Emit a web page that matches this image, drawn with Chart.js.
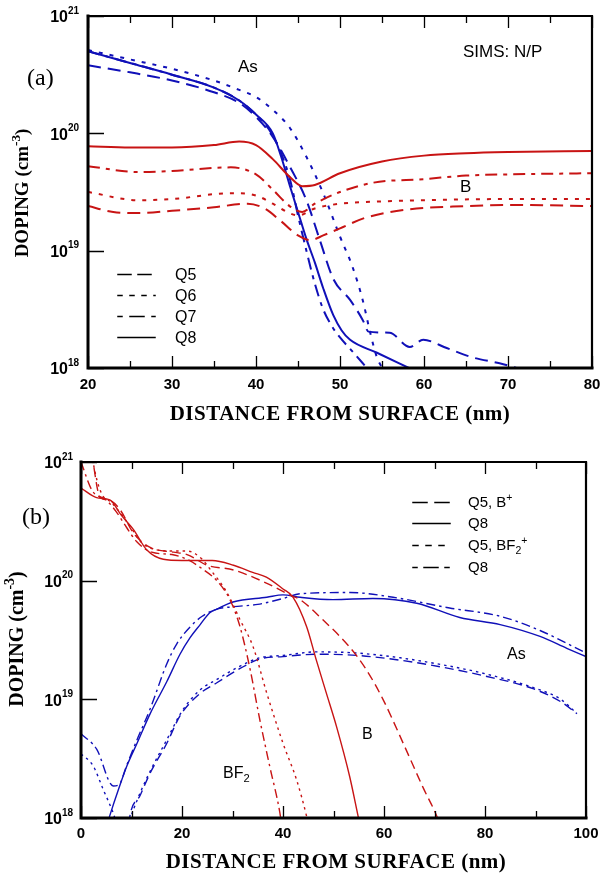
<!DOCTYPE html>
<html>
<head>
<meta charset="utf-8">
<script src="https://cdn.jsdelivr.net/npm/chart.js@4.4.0/dist/chart.umd.min.js"></script>
<style>
	body { margin: 0; background: #fff; width: 602px; height: 876px; position: relative; overflow: hidden; }
	.dop-wrap { position: absolute; left: 0; width: 602px; }
</style>
</head>
<body>
<div class="dop-wrap" style="top:0;height:430px"><canvas id="chartA"></canvas></div>
<div class="dop-wrap" style="top:430px;height:446px"><canvas id="chartB"></canvas></div>
<script>
// all doping values are log10(cm^-3), x is depth in nm

// panel (a) - SIMS N/P
var asQ5a = [[20,20.58],[25,20.52],[30,20.45],[35,20.35],[38,20.26],[40,20.14],[42,19.97],[44,19.72],[46,19.43],[47.6,19.09],[49.2,18.76],[51.2,18.58],[52.7,18.41],[53.4,18.31],[55.9,18.30],[58.3,18.18],[59.9,18.24],[62.7,18.17],[65.8,18.09],[69,18.04],[72,17.98]];
var asQ6a = [[20,20.71],[25,20.63],[30,20.55],[35,20.45],[38,20.37],[40,20.31],[42,20.2],[44,20.05],[46,19.8],[48,19.49],[50,19.12],[51.5,18.86],[52.7,18.58],[53.6,18.3],[54.4,18.09],[55.2,17.98]];
var asQ7a = [[20,20.70],[25,20.6],[30,20.5],[35,20.39],[38,20.28],[40,20.16],[42,19.98],[44,19.62],[45,19.3],[46,19.0],[47,18.72],[48,18.5],[49,18.36],[50,18.26],[51.5,18.14],[53.2,18.0]];
var asQ8a = [[20,20.70],[25,20.6],[30,20.5],[35,20.39],[38,20.28],[40,20.16],[42,20.0],[43,19.8],[44,19.56],[45,19.33],[46,19.1],[47,18.9],[48,18.68],[49.2,18.45],[50.2,18.32],[51.2,18.24],[54.4,18.13],[58.2,18.0]];
var bQ5a = [[20,19.38],[23,19.33],[26,19.32],[30,19.34],[35,19.37],[39,19.40],[41,19.36],[43,19.25],[45,19.13],[46.5,19.09],[48,19.13],[50,19.19],[53,19.28],[58,19.35],[65,19.38],[70,19.39],[80,19.38]];
var bQ6a = [[20,19.50],[26,19.43],[30,19.44],[37,19.49],[40,19.47],[42,19.40],[44,19.32],[45,19.30],[47,19.36],[50,19.40],[55,19.42],[60,19.43],[70,19.44],[80,19.44]];
var bQ7a = [[20,19.72],[26,19.67],[30,19.68],[37,19.71],[40,19.65],[42,19.52],[44,19.38],[45.5,19.33],[47,19.40],[50,19.50],[54,19.58],[60,19.61],[65,19.64],[70,19.65],[80,19.66]];
var bQ8a = [[20,19.89],[25,19.88],[30,19.88],[35,19.90],[38,19.93],[40,19.90],[42,19.78],[44,19.63],[45.5,19.55],[47,19.56],[50,19.66],[55,19.76],[60,19.81],[65,19.83],[70,19.84],[80,19.85]];

// panel (b) - B+ and BF2+ implants
var bQ5b = [[1.5,21.3],[2.4,21.0],[3.8,20.70],[5.5,20.68],[7.7,20.60],[10.4,20.40],[13.7,20.28],[18.3,20.24],[21,20.22],[25,20.13],[30.2,20.09],[36.7,19.98],[41.3,19.88],[43.4,19.84],[47.9,19.67],[53.2,19.44],[56.5,19.25],[59.8,19.0],[63.8,18.63],[67.7,18.26],[70.5,18.01],[71,17.95]];
var bQ8b = [[0,20.78],[3.1,20.70],[5.7,20.68],[8,20.55],[10.4,20.43],[13,20.26],[16.3,20.18],[20,20.17],[23.5,20.17],[26,20.17],[30.2,20.13],[34,20.07],[36.7,20.03],[40,19.93],[42,19.86],[44.7,19.61],[46.6,19.33],[48.6,19.05],[50.6,18.77],[53.2,18.35],[54.9,18.01],[55.2,17.95]];
var bf2Q5b = [[1.5,21.3],[2.4,21.0],[4,20.74],[6,20.66],[8,20.56],[10,20.44],[12,20.32],[15,20.26],[18,20.25],[21,20.25],[24,20.18],[25.5,20.10],[28.9,19.9],[31.5,19.67],[34.1,19.44],[36.8,19.05],[40,18.63],[42.7,18.32],[44.7,18.01],[45,17.95]];
var bf2Q8b = [[0,21.0],[2.2,20.76],[5,20.68],[7,20.58],[9,20.45],[11,20.33],[14,20.24],[18,20.22],[21,20.18],[24,20.1],[26.9,20.0],[29.5,19.84],[31.5,19.61],[33.5,19.25],[35.4,18.83],[37.4,18.43],[39.4,18.04],[39.7,17.95]];
var asQ5bB = [[9.5,17.95],[9.7,18.02],[11.7,18.19],[13.7,18.38],[17,18.63],[19.6,18.86],[23.6,19.05],[26.9,19.14],[31.5,19.26],[35.4,19.34],[40,19.36],[46.7,19.38],[54.7,19.37],[63.2,19.33],[71.7,19.27],[79.6,19.2],[89.5,19.09],[95,18.98],[98.2,18.88]];
var asQ5bF = [[0,18.54],[2.4,18.44],[4.4,18.24],[6.4,18.04],[7.5,17.9],[9,17.9],[10.2,18.05],[12,18.24],[14,18.42],[17,18.66],[20,18.9],[23.6,19.08],[27,19.17],[31.5,19.28],[35.4,19.35],[40,19.37],[46.7,19.40],[54.7,19.39],[63.2,19.35],[71.7,19.29],[79.6,19.22],[89.5,19.1],[95,19.0],[98.2,18.88]];
var asQ8bB = [[5.2,17.95],[5.7,18.02],[7.5,18.25],[9.1,18.44],[11.1,18.63],[13.7,18.88],[17,19.15],[19.6,19.38],[21.6,19.52],[23.6,19.63],[25.5,19.73],[26.9,19.76],[30.1,19.82],[36.8,19.86],[40,19.88],[43.4,19.86],[49.9,19.84],[57.8,19.85],[66.5,19.81],[75,19.69],[83,19.63],[90.9,19.53],[96.2,19.43],[100,19.36]];
var asQ8bF = [[0,18.71],[3.1,18.58],[6.4,18.27],[7.5,18.28],[9.1,18.45],[11.1,18.66],[13.7,18.92],[17,19.3],[19,19.47],[21.6,19.61],[24,19.7],[26.9,19.76],[30,19.78],[35,19.80],[40,19.85],[43.4,19.89],[53.3,19.9],[61.8,19.86],[73,19.77],[83,19.70],[90.9,19.58],[100,19.39]];

var xMajorA = [20, 30, 40, 50, 60, 70, 80];
var xMinorA = [25, 35, 45, 55, 65, 75];
var xMajorB = [0, 20, 40, 60, 80, 100];
var xMinorB = [10, 30, 50, 70, 90];
var yDecades = [18, 19, 20, 21];

var BLUE = '#1010b8';
var RED = '#c81414';

function pts(arr) {
	return arr.map(function (p) { return { x: p[0], y: Math.pow(10, p[1]) }; });
}

function line(arr, color, dash, w) {
	return {
		data: pts(arr),
		borderColor: color,
		borderWidth: w,
		borderDash: dash,
		pointRadius: 0,
		fill: false,
		cubicInterpolationMode: 'monotone'
	};
}

// draws text made of parts [text, 'sup'|'sub'|null]; returns width
function rich(ctx, parts, x, y, size, weight, family, measureOnly) {
	var x0 = x;
	parts.forEach(function (p) {
		var s = p[1] ? size * 0.7 : size;
		ctx.font = weight + ' ' + s + 'px ' + family;
		var dy = p[1] === 'sup' ? -size * 0.42 : (p[1] === 'sub' ? size * 0.25 : 0);
		if (!measureOnly) ctx.fillText(p[0], x, y + dy);
		x += ctx.measureText(p[0]).width;
	});
	return x - x0;
}

var SANS = "'Liberation Sans', Arial, sans-serif";
var SERIF = "'Liberation Serif', 'Times New Roman', serif";

function decor(cfg) {
	return {
		id: 'decor',
		afterDraw: function (chart) {
			var ctx = chart.ctx, a = chart.chartArea;
			var xs = chart.scales.x, ys = chart.scales.y;
			ctx.save();
			ctx.strokeStyle = '#000';
			ctx.fillStyle = '#000';

			// inward ticks
			ctx.lineWidth = 1.3;
			ctx.beginPath();
			cfg.xMajor.concat(cfg.xMinor).forEach(function (v) {
				var px = Math.round(xs.getPixelForValue(v)) + 0.5;
				var len = cfg.xMajor.indexOf(v) >= 0 ? 12 : 7;
				ctx.moveTo(px, a.top); ctx.lineTo(px, a.top + len);
				ctx.moveTo(px, a.bottom); ctx.lineTo(px, a.bottom - len);
			});
			yDecades.forEach(function (e) {
				var py = Math.round(ys.getPixelForValue(Math.pow(10, e))) + 0.5;
				ctx.moveTo(a.left, py); ctx.lineTo(a.left + 16, py);
			});
			ctx.stroke();

			// frame
			ctx.lineCap = 'square';
			ctx.lineWidth = 2.2;
			ctx.beginPath();
			ctx.moveTo(a.left, a.top); ctx.lineTo(a.right, a.top); ctx.lineTo(a.right, a.bottom);
			ctx.stroke();
			ctx.lineWidth = 3;
			ctx.beginPath();
			ctx.moveTo(a.left, a.top); ctx.lineTo(a.left, a.bottom); ctx.lineTo(a.right, a.bottom);
			ctx.stroke();

			// x tick labels
			ctx.textAlign = 'center';
			ctx.textBaseline = 'middle';
			ctx.font = 'bold 15px ' + SANS;
			cfg.xMajor.forEach(function (v) {
				ctx.fillText(String(v), xs.getPixelForValue(v), cfg.xLabelY);
			});

			// y tick labels 10^n
			yDecades.forEach(function (e) {
				var py = ys.getPixelForValue(Math.pow(10, e));
				ctx.textAlign = 'right';
				ctx.font = 'bold 16px ' + SANS;
				ctx.fillText('10', cfg.yLabelX, py + 2);
				ctx.textAlign = 'left';
				ctx.font = 'bold 10px ' + SANS;
				ctx.fillText(String(e), cfg.yLabelX, py - 5);
			});

			// axis titles
			ctx.textAlign = 'left';
			ctx.textBaseline = 'alphabetic';
			var xt = [['DISTANCE FROM SURFACE (nm)', null]];
			ctx.letterSpacing = '0.5px';
			var w = rich(ctx, xt, 0, 0, cfg.titleSize, 'bold', SERIF, true);
			rich(ctx, xt, cfg.xTitle[0] - w / 2, cfg.xTitle[1] + cfg.titleSize * 0.34, cfg.titleSize, 'bold', SERIF);
			ctx.letterSpacing = '0px';
			var yt = [['DOPING (cm', null], ['-3', 'sup'], [')', null]];
			w = rich(ctx, yt, 0, 0, cfg.yTitleSize, 'bold', SERIF, true);
			ctx.save();
			ctx.translate(cfg.yTitle[0], cfg.yTitle[1]);
			ctx.rotate(-Math.PI / 2);
			rich(ctx, yt, -w / 2, cfg.yTitleSize * 0.34, cfg.yTitleSize, 'bold', SERIF);
			ctx.restore();

			// panel letter
			ctx.font = '24px ' + SERIF;
			ctx.textBaseline = 'middle';
			ctx.fillText(cfg.panel[0], cfg.panel[1], cfg.panel[2]);

			// labels on the plot
			ctx.textBaseline = 'alphabetic';
			cfg.notes.forEach(function (n) {
				rich(ctx, n.t, n.x, n.y + n.s * 0.36, n.s, 'normal', SANS);
			});

			// legend
			ctx.strokeStyle = '#000';
			ctx.lineWidth = 1.5;
			cfg.legend.items.forEach(function (it, i) {
				var y = cfg.legend.y[i];
				ctx.setLineDash(it.dash);
				ctx.beginPath();
				ctx.moveTo(cfg.legend.x0, y + 0.5); ctx.lineTo(cfg.legend.x1, y + 0.5);
				ctx.stroke();
				rich(ctx, it.t, cfg.legend.tx, y + cfg.legend.s * 0.36, cfg.legend.s, 'normal', SANS);
			});
			ctx.setLineDash([]);
			ctx.restore();
		}
	};
}

function baseOptions(xmin, xmax, pad) {
	return {
		responsive: true,
		maintainAspectRatio: false,
		animation: false,
		layout: { padding: pad },
		scales: {
			x: { type: 'linear', min: xmin, max: xmax, display: false },
			y: { type: 'logarithmic', min: 1e18, max: 1e21, display: false }
		},
		plugins: {
			legend: { display: false },
			tooltip: { enabled: false }
		}
	};
}

// dash styles
var DASH_A = [13, 7], DOT_A = [4, 7], DASHDOT_A = [12, 6, 4, 6];
var DASH_B = [9, 5], DOT_B = [2.5, 4], DASHDOT_B = [9, 4, 2.5, 4];

new Chart(document.getElementById('chartA'), {
	type: 'line',
	data: {
		datasets: [
			line(bQ5a, RED, DASH_A, 2),
			line(bQ6a, RED, DOT_A, 2),
			line(bQ7a, RED, DASHDOT_A, 2),
			line(bQ8a, RED, [], 2),
			line(asQ5a, BLUE, DASH_A, 2),
			line(asQ6a, BLUE, DOT_A, 2),
			line(asQ7a, BLUE, DASHDOT_A, 2),
			line(asQ8a, BLUE, [], 2)
		]
	},
	options: baseOptions(20, 80, { left: 88, right: 10, top: 16, bottom: 62 }),
	plugins: [decor({
		xMajor: xMajorA, xMinor: xMinorA,
		xLabelY: 385, yLabelX: 68,
		titleSize: 21, yTitleSize: 19,
		xTitle: [340, 413], yTitle: [22, 193],
		panel: ['(a)', 27, 79],
		notes: [
			{ t: [['As', null]], x: 238, y: 66, s: 17 },
			{ t: [['SIMS: N/P', null]], x: 463, y: 51, s: 17 },
			{ t: [['B', null]], x: 460, y: 186, s: 17 }
		],
		legend: {
			x0: 118, x1: 155, tx: 175, s: 16,
			y: [274, 295, 316, 337],
			items: [
				{ t: [['Q5', null]], dash: DASH_A },
				{ t: [['Q6', null]], dash: [4, 8] },
				{ t: [['Q7', null]], dash: [4, 8, 14, 8] },
				{ t: [['Q8', null]], dash: [] }
			]
		}
	})]
});

new Chart(document.getElementById('chartB'), {
	type: 'line',
	data: {
		datasets: [
			line(bQ5b, RED, DASH_B, 1.4),
			line(bQ8b, RED, [], 1.4),
			line(bf2Q5b, RED, DOT_B, 1.4),
			line(bf2Q8b, RED, DASHDOT_B, 1.4),
			line(asQ5bB, BLUE, DASH_B, 1.4),
			line(asQ5bF, BLUE, DOT_B, 1.4),
			line(asQ8bB, BLUE, [], 1.4),
			line(asQ8bF, BLUE, DASHDOT_B, 1.4)
		]
	},
	options: baseOptions(0, 100, { left: 81, right: 16, top: 32, bottom: 58 }),
	plugins: [decor({
		xMajor: xMajorB, xMinor: xMinorB,
		xLabelY: 404, yLabelX: 62,
		titleSize: 21, yTitleSize: 20,
		xTitle: [336, 431], yTitle: [16, 209],
		panel: ['(b)', 22, 88],
		notes: [
			{ t: [['As', null]], x: 507, y: 223, s: 16 },
			{ t: [['B', null]], x: 362, y: 303, s: 16 },
			{ t: [['BF', null], ['2', 'sub']], x: 223, y: 342, s: 16 }
		],
		legend: {
			x0: 413, x1: 450, tx: 468, s: 15,
			y: [72, 93, 115, 137],
			items: [
				{ t: [['Q5, B', null], ['+', 'sup']], dash: [14, 8] },
				{ t: [['Q8', null]], dash: [] },
				{ t: [['Q5, BF', null], ['2', 'sub'], ['+', 'sup']], dash: [5, 8] },
				{ t: [['Q8', null]], dash: [4, 7, 14, 7] }
			]
		}
	})]
});
</script>
</body>
</html>
